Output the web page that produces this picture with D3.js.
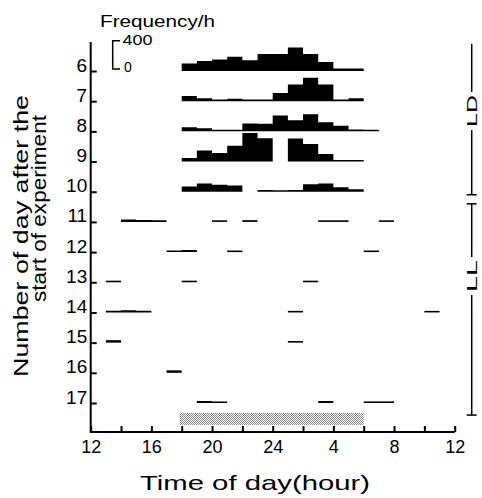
<!DOCTYPE html>
<html>
<head>
<meta charset="utf-8">
<script src="https://cdn.jsdelivr.net/npm/d3@7"></script>
<style>
  body { margin: 0; background: #fff; }
  svg text { font-family: "Liberation Sans", Arial, sans-serif; fill: #000; }
</style>
</head>
<body>
<svg id="chart" width="482" height="498"></svg>
<script>
// days on the vertical axis
const days = [6, 7, 8, 9, 10, 11, 12, 13, 14, 15, 16, 17];

// hourly activity counts, [start hour, count]; hours run 12..36 (24 = midnight, 28 = 4 h)
const day6 = [[18, 106], [19, 142], [20, 163], [21, 201], [22, 153], [23, 241], [24, 241], [25, 331], [26, 241], [27, 127], [28, 35], [29, 35]];
const day7 = [[18, 75], [19, 40], [20, 12], [21, 35], [22, 12], [23, 12], [24, 114], [25, 236], [26, 332], [27, 236], [28, 12], [29, 42]];
const day8 = [[18, 59], [19, 45], [20, 24], [21, 12], [22, 111], [23, 107], [24, 225], [25, 158], [26, 243], [27, 130], [28, 78], [29, 28], [30, 8]];
const day9 = [[18, 50], [19, 155], [20, 122], [21, 225], [22, 405], [23, 330], [25, 325], [26, 248], [27, 105], [28, 10], [29, 8]];
const day10 = [[18, 74], [19, 116], [20, 98], [21, 88], [23, 26], [24, 10], [25, 26], [26, 104], [27, 116], [28, 64], [29, 36]];
const day11 = [[14, 35], [15, 28], [16, 15], [20, 20], [22, 25], [27, 20], [28, 20], [31, 18]];
const day12 = [[17, 15], [18, 30], [21, 22], [30, 18]];
const day13 = [[13, 18], [18, 20], [26, 20]];
const day14 = [[13, 18], [14, 32], [15, 20], [25, 20], [34, 15]];
const day15 = [[13, 35], [25, 22]];
const day16 = [[17, 35]];
const day17 = [[19, 30], [20, 18], [27, 28], [30, 22], [31, 18]];
const records = [day6, day7, day8, day9, day10, day11, day12, day13, day14, day15, day16, day17];

// x axis ticks and labels
const tickHours = [12, 14, 16, 18, 20, 22, 24, 26, 28, 30, 32, 34, 36];
const labelHours = [12, 16, 20, 24, 28, 32, 36];
const labelText = ["12", "16", "20", "24", "4", "8", "12"];

// dark period bar (18 h to 6 h)
const darkPeriod = [18, 30];

const svg = d3.select("#chart");
svg.append("rect").attr("width", 482).attr("height", 498).attr("fill", "#fff");

const x = d3.scaleLinear().domain([12, 36]).range([90.7, 454.7]);
const y = d3.scaleLinear().domain([6, 17]).range([71, 403]);
const h = d3.scaleLinear().domain([0, 400]).range([0, 28.3]);

const frameTop = y(5.04);
const frameBottom = y(17.96);

// stipple pattern for the dark bar
const defs = svg.append("defs");
const pat = defs.append("pattern")
  .attr("id", "dots")
  .attr("width", 2)
  .attr("height", 2)
  .attr("patternUnits", "userSpaceOnUse");
pat.append("rect").attr("width", 1).attr("height", 1).attr("fill", "#888");
pat.append("rect").attr("x", 1).attr("y", 1).attr("width", 1).attr("height", 1).attr("fill", "#888");

svg.append("rect")
  .attr("x", x(darkPeriod[0]) - 2)
  .attr("y", y(17.33))
  .attr("width", x(darkPeriod[1]) - x(darkPeriod[0]) + 2)
  .attr("height", 12)
  .attr("fill", "url(#dots)");

// activity rows
const area = d3.area().curve(d3.curveStepAfter);

records.forEach((rec, i) => {
  const base = y(days[i]);
  const runs = [];
  rec.forEach((d) => {
    const last = runs.length ? runs[runs.length - 1] : null;
    if (last && last[last.length - 1][0] === d[0] - 1) {
      last.push(d);
    } else {
      runs.push([d]);
    }
  });

  svg.append("g")
    .selectAll("path")
    .data(runs)
    .join("path")
    .attr("fill", "#000")
    .attr("d", (run) => {
      const pts = run.concat([[run[run.length - 1][0] + 1, run[run.length - 1][1]]]);
      return area
        .x((d) => x(d[0]))
        .y0(base)
        .y1((d) => base - Math.max(h(d[1]), 1.6))(pts);
    });
});

// frame
svg.append("path")
  .attr("d", `M${x(12)},${frameTop}V${frameBottom}H${x(36)}`)
  .attr("fill", "none")
  .attr("stroke", "#000")
  .attr("stroke-width", 2);

// y axis (days)
const yAxis = svg.append("g")
  .attr("transform", `translate(${x(12)},0)`)
  .call(d3.axisLeft(y).tickValues(days).tickSize(-6).tickSizeOuter(0).tickPadding(3.5));
yAxis.select(".domain").remove();
yAxis.selectAll("line").attr("stroke-width", 2);
yAxis.selectAll("text").attr("dy", "0").style("font-size", "19px");

// x axis (hours)
const xAxis = svg.append("g")
  .attr("transform", `translate(0,${frameBottom})`)
  .call(d3.axisBottom(x)
    .tickValues(tickHours)
    .tickSize(-6)
    .tickSizeOuter(0)
    .tickPadding(8)
    .tickFormat((d) => {
      const idx = labelHours.indexOf(d);
      return idx < 0 ? "" : labelText[idx];
    }));
xAxis.select(".domain").remove();
xAxis.selectAll("line").attr("stroke-width", 2);
xAxis.selectAll("text").style("font-size", "18px");

// axis titles
svg.append("text")
  .attr("x", 255)
  .attr("y", 490)
  .attr("text-anchor", "middle")
  .attr("textLength", 230)
  .attr("lengthAdjust", "spacingAndGlyphs")
  .style("font-size", "21px")
  .text("Time of day(hour)");

svg.append("text")
  .attr("transform", "translate(27.5,236) rotate(-90)")
  .attr("text-anchor", "middle")
  .attr("textLength", 282)
  .attr("lengthAdjust", "spacingAndGlyphs")
  .style("font-size", "20px")
  .text("Number of day after the");

svg.append("text")
  .attr("transform", "translate(45.5,208.5) rotate(-90)")
  .attr("text-anchor", "middle")
  .attr("textLength", 187)
  .attr("lengthAdjust", "spacingAndGlyphs")
  .style("font-size", "20px")
  .text("start of experiment");

// frequency scale bar
svg.append("text")
  .attr("x", 100)
  .attr("y", 27)
  .attr("textLength", 115)
  .attr("lengthAdjust", "spacingAndGlyphs")
  .style("font-size", "17px")
  .text("Frequency/h");

const scaleBottom = y(6) - 2;
const scaleTop = scaleBottom - h(400);
svg.append("path")
  .attr("d", `M120,${scaleTop}H112.7V${scaleBottom}H120`)
  .attr("fill", "none")
  .attr("stroke", "#000")
  .attr("stroke-width", 1.5);

svg.append("text")
  .attr("x", 122.5)
  .attr("y", scaleTop + 4.5)
  .attr("textLength", 30)
  .attr("lengthAdjust", "spacingAndGlyphs")
  .style("font-size", "14px")
  .text("400");

svg.append("text")
  .attr("x", 124)
  .attr("y", scaleBottom + 3)
  .style("font-size", "14px")
  .text("0");

// LD / LL bracket on the right
const bx = 471.7;
const bracket = svg.append("g").attr("stroke", "#000").attr("stroke-width", 1.5);
const segs = [
  [y(5.1), 92],
  [130, y(10.1)],
  [y(10.4), 257],
  [295, y(17.4)]
];
bracket.selectAll("line.v")
  .data(segs)
  .join("line")
  .attr("class", "v")
  .attr("x1", bx).attr("x2", bx)
  .attr("y1", (d) => d[0]).attr("y2", (d) => d[1]);
bracket.selectAll("line.t")
  .data([y(10.1), y(10.4), y(17.4)])
  .join("line")
  .attr("class", "t")
  .attr("x1", bx - 5).attr("x2", bx + 5)
  .attr("y1", (d) => d).attr("y2", (d) => d);

[["LD", 111], ["LL", 276]].forEach(([label, cy]) => {
  svg.append("text")
    .attr("transform", `translate(477,${cy}) rotate(-90)`)
    .attr("text-anchor", "middle")
    .attr("textLength", 32)
    .attr("lengthAdjust", "spacingAndGlyphs")
    .style("font-size", "15px")
    .text(label);
});
</script>
</body>
</html>
